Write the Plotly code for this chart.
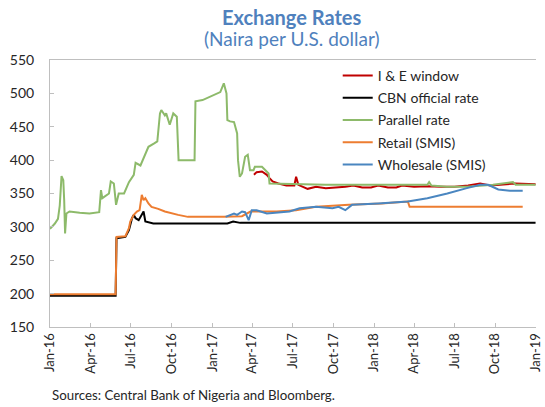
import plotly.graph_objects as go

# ---------------- data ----------------
ie_dates = ["2017-04-05", "2017-04-11", "2017-04-23", "2017-05-04", "2017-05-10", "2017-05-17",
            "2017-05-30", "2017-06-17", "2017-07-05", "2017-07-09", "2017-07-14", "2017-08-04",
            "2017-08-23", "2017-09-14", "2017-10-28", "2017-11-15", "2017-12-05", "2017-12-25",
            "2018-01-10", "2018-02-01", "2018-02-20", "2018-03-05", "2018-04-01", "2018-05-01",
            "2018-06-01", "2018-07-01", "2018-08-01", "2018-08-28", "2018-09-20", "2018-10-15",
            "2018-11-15", "2018-12-31"]
ie_values = [378, 382, 383, 378, 373, 368,
             365, 362, 362, 375, 363, 357,
             360, 358, 360, 362, 359, 359,
             362, 359, 359, 362, 360, 361,
             360, 360, 362, 365, 362, 363,
             365, 364]

cbn_dates = ["2016-01-01", "2016-05-28", "2016-05-30", "2016-06-19", "2016-06-27", "2016-07-04",
             "2016-07-08", "2016-07-12", "2016-07-19", "2016-07-26", "2016-07-30", "2016-08-03",
             "2016-08-21", "2017-02-04", "2017-02-17", "2017-03-05", "2018-12-31"]
cbn_values = [197, 197, 283, 285, 295, 313,
              318, 313, 310, 318, 323, 308,
              305, 305, 308, 306, 306]

par_dates = ["2016-01-01", "2016-01-12", "2016-01-19", "2016-01-23", "2016-01-27", "2016-01-31",
             "2016-02-02", "2016-02-04", "2016-02-07", "2016-02-14", "2016-03-08", "2016-03-30",
             "2016-04-21", "2016-04-25", "2016-04-28", "2016-05-07", "2016-05-13", "2016-05-17",
             "2016-05-24", "2016-05-29", "2016-06-04", "2016-06-16", "2016-06-27", "2016-07-08",
             "2016-07-12", "2016-07-23", "2016-08-03", "2016-08-10", "2016-08-23", "2016-08-30",
             "2016-09-05", "2016-09-08", "2016-09-16", "2016-09-19", "2016-09-27", "2016-10-05",
             "2016-10-13", "2016-10-17", "2016-11-22", "2016-11-24", "2016-12-10", "2016-12-21",
             "2017-01-05", "2017-01-19", "2017-01-27", "2017-02-02", "2017-02-04", "2017-02-10",
             "2017-02-19", "2017-02-26", "2017-02-28", "2017-03-04", "2017-03-09", "2017-03-16",
             "2017-03-22", "2017-03-27", "2017-04-04", "2017-04-07", "2017-04-23", "2017-05-04",
             "2017-05-08", "2017-05-10", "2017-07-09", "2017-09-14", "2018-02-16", "2018-05-01",
             "2018-05-05", "2018-05-10", "2018-06-14", "2018-07-29", "2018-09-26", "2018-11-10",
             "2018-11-16", "2018-12-31"]
par_values = [297, 305, 312, 332, 376, 370,
              340, 290, 320, 323, 321, 320,
              322, 355, 343, 348, 350, 368,
              365, 333, 350, 350, 367, 378,
              396, 392, 410, 420, 425, 428,
              470, 475, 467, 470, 453, 470,
              465, 400, 400, 488, 490, 493,
              498, 502, 515, 500, 460, 458,
              457, 440, 400, 375, 380, 405,
              408, 385, 385, 390, 390, 382,
              380, 365, 364, 363, 363, 363,
              367, 362, 360, 360, 363, 367,
              363, 363]

ret_dates = ["2016-01-01", "2016-05-28", "2016-05-30", "2016-06-19", "2016-06-27", "2016-06-30",
             "2016-07-08", "2016-07-15", "2016-07-21", "2016-07-26", "2016-07-30", "2016-08-03",
             "2016-08-10", "2016-08-17", "2016-09-01", "2016-09-16", "2016-10-16", "2016-11-07",
             "2017-01-27", "2017-03-09", "2017-03-28", "2017-05-26", "2017-07-09", "2017-08-23",
             "2017-11-05", "2018-01-18", "2018-03-18", "2018-03-22", "2018-12-02"]
ret_values = [199, 199, 285, 286, 298, 308,
              318, 323, 325, 348, 340, 343,
              335, 330, 327, 323, 318, 315,
              315, 316, 323, 323, 325, 330,
              333, 335, 338, 330, 330]

whl_dates = ["2017-01-31", "2017-02-19", "2017-02-26", "2017-03-09", "2017-03-16", "2017-03-24",
             "2017-03-31", "2017-04-11", "2017-05-04", "2017-06-10", "2017-06-24", "2017-07-17",
             "2017-08-23", "2017-09-29", "2017-10-13", "2017-10-28", "2017-11-12", "2018-01-10",
             "2018-03-18", "2018-05-01", "2018-06-15", "2018-07-29", "2018-08-28", "2018-09-15",
             "2018-10-08", "2018-11-03", "2018-12-02"]
whl_values = [315, 320, 318, 323, 322, 310,
              325, 325, 320, 322, 323, 328,
              330, 328, 330, 325, 333, 335,
              338, 343, 350, 358, 363, 363,
              356, 354, 354]

x_tickvals = ["2016-01-01", "2016-04-01", "2016-07-01", "2016-10-01", "2017-01-01", "2017-04-01",
              "2017-07-01", "2017-10-01", "2018-01-01", "2018-04-01", "2018-07-01", "2018-10-01",
              "2019-01-01"]
x_ticktext = ["Jan-16", "Apr-16", "Jul-16", "Oct-16", "Jan-17", "Apr-17", "Jul-17", "Oct-17",
              "Jan-18", "Apr-18", "Jul-18", "Oct-18", "Jan-19"]
y_tickvals = [150, 200, 250, 300, 350, 400, 450, 500, 550]

# ---------------- figure ----------------
FONT = "Lato"
TXT = "#262626"

fig = go.Figure()
series = [
    ("I & E window", ie_dates, ie_values, "#C00000"),
    ("CBN official rate", cbn_dates, cbn_values, "#000000"),
    ("Parallel rate", par_dates, par_values, "#8DBA6A"),
    ("Retail (SMIS)", ret_dates, ret_values, "#ED7D31"),
    ("Wholesale (SMIS)", whl_dates, whl_values, "#4A86C0"),
]
for name, xs, ys, col in series:
    fig.add_trace(go.Scatter(x=xs, y=ys, name=name, mode="lines", legendgroup=name,
                             line=dict(color=col, width=2)))

fig.update_layout(
    width=545, height=407,
    margin=dict(l=50, r=1.5, t=60, b=80),
    paper_bgcolor="white", plot_bgcolor="white",
    font=dict(family=FONT, size=14, color=TXT),
    showlegend=True,
    legend=dict(x=0.592, y=1.0, xanchor="left", yanchor="top",
                bgcolor="rgba(0,0,0,0)", font=dict(family=FONT, size=14, color=TXT),
                tracegroupgap=1),
    xaxis=dict(range=["2016-01-01", "2019-01-01"], tickmode="array",
               tickvals=x_tickvals, ticktext=x_ticktext, tickangle=-90,
               ticks="inside", ticklen=4, tickcolor="#BFBFBF",
               showline=True, linecolor="#BFBFBF", linewidth=1, mirror=True,
               showgrid=False, zeroline=False, ticklabeloverflow="allow",
               tickfont=dict(family=FONT, size=13, color=TXT)),
    yaxis=dict(range=[150, 550], tickmode="array", tickvals=y_tickvals,
               ticks="inside", ticklen=4, tickcolor="#BFBFBF",
               showline=True, linecolor="#BFBFBF", linewidth=1,
               showgrid=False, zeroline=False, ticklabelstandoff=12,
               tickfont=dict(family=FONT, size=14, color=TXT)),
)

fig.add_annotation(text="<b>Exchange Rates</b>", xref="paper", yref="paper",
                   x=0.497, y=1.0, yshift=43, xanchor="center", yanchor="middle",
                   showarrow=False, font=dict(family=FONT, size=20, color="#4F81BD"))
fig.add_annotation(text="(Naira per U.S. dollar)", xref="paper", yref="paper",
                   x=0.497, y=1.0, yshift=22, xanchor="center", yanchor="middle",
                   showarrow=False, font=dict(family=FONT, size=19, color="#4F81BD"))
fig.add_annotation(text="Sources: Central Bank of Nigeria and Bloomberg.", xref="paper",
                   yref="paper", x=0.0, y=0.0, yshift=-68, xanchor="left", yanchor="middle",
                   showarrow=False, font=dict(family=FONT, size=13.3, color=TXT))

# remove the browser's default 8px body margin so the figure sits at the page origin
fig.write_html("out.html", config={"displayModeBar": False},
               post_script="document.body.style.margin='0px';")
